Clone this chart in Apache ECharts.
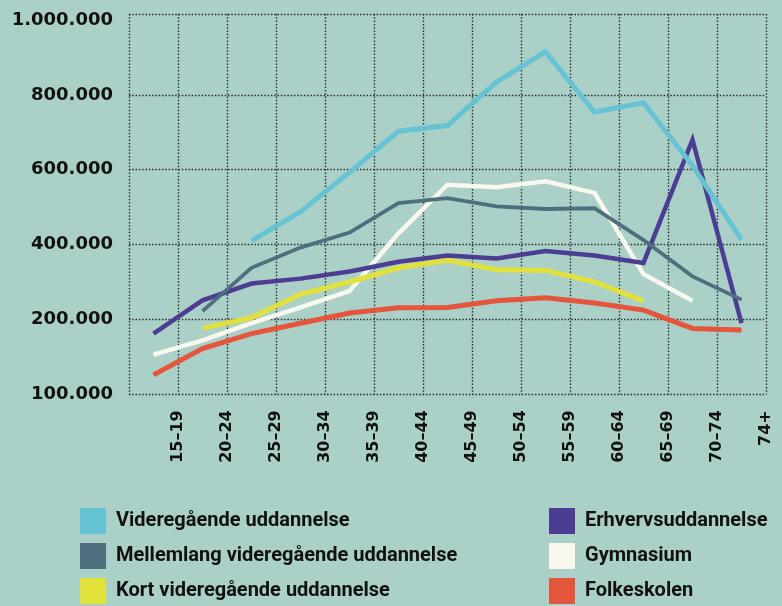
<!DOCTYPE html>
<html><head><meta charset="utf-8">
<script src="https://cdn.jsdelivr.net/npm/echarts@6/dist/echarts.min.js"></script>
<style>html,body{margin:0;padding:0;background:#abd0c8;}#c{width:782px;height:606px;}</style>
</head><body><div id="c"></div>
<script>
const categories = ['15–19','20–24','25–29','30–34','35–39','40–44','45–49','50–54','55–59','60–64','65–69','70–74','74+'];
const yTickValues = [100000, 200000, 400000, 600000, 800000, 1000000];
const yTickLabels = ['100.000','200.000','400.000','600.000','800.000','1.000.000'];

const videregaaende = [null, null, 410000, 488000, 593000, 703000, 718000, 834000, 915000, 754000, 779000, 611000, 413000];
const mellemlang    = [null, 222000, 338000, 392000, 432000, 511000, 524000, 502000, 495000, 497000, 412000, 315000, 253000];
const kort          = [null, 188000, 205000, 267000, 300000, 338000, 358000, 333000, 331000, 300000, 249000, null, null];
const erhverv       = [181000, 251000, 296000, 309000, 328000, 354000, 371000, 363000, 383000, 371000, 351000, 680000, 195000];
const gymnasium     = [153000, 172000, 195000, 232000, 276000, 430000, 560000, 553000, 569000, 538000, 321000, 250000, null];
const folkeskolen   = [126000, 161000, 181000, 195000, 217000, 231000, 232000, 250000, 258000, 244000, 225000, 188000, 186000];

// the printed axis is piecewise: 100k->200k takes the same room as each 200k step above
function toAxis(v) {
  if (v == null) return null;
  return v <= 200000 ? (v - 100000) / 100000 : 1 + (v - 200000) / 200000;
}
const tickPos = yTickValues.map(toAxis);
const frameTop = 5.08;

const colors = {
  videregaaende: '#65c3d3', mellemlang: '#4f6f7f', kort: '#e2e03a',
  erhverv: '#4b3d91', gymnasium: '#f8f8ef', folkeskolen: '#e5553b'
};
function mk(name, data, color, width) {
  return { name, type: 'line', data: data.map(toAxis), xAxisIndex: 0, yAxisIndex: 0,
    showSymbol: false, symbol: 'none', connectNulls: false,
    lineStyle: { color, width, cap: 'butt', join: 'miter' }, itemStyle: { color },
    emphasis: { disabled: true }, animation: false };
}
const dotted = { color: '#2a2f2e', width: 1.4, type: [1.5, 1.8] };
const legendText = { color: '#111', fontFamily: 'Roboto', fontWeight: 'bold', fontSize: 20, padding: [0, 0, 0, 5] };
const chart = echarts.init(document.getElementById('c'), null, { renderer: 'canvas' });
chart.setOption({
  backgroundColor: '#abd0c8',
  animation: false,
  grid: { left: 129, right: 16, top: 14, bottom: 211.7, containLabel: false },
  xAxis: [
    { type: 'category', data: categories, boundaryGap: true, show: false },
    { type: 'category', data: [''].concat(categories), boundaryGap: false, position: 'bottom',
      axisLine: { show: false }, axisTick: { show: false },
      splitLine: { show: true, interval: 0, lineStyle: dotted },
      axisLabel: { interval: 0, rotate: 90, margin: 16, color: '#111', fontFamily: 'DejaVu Sans', fontWeight: 'bold', fontSize: 16 } }
  ],
  yAxis: [{
    type: 'value', min: 0, max: frameTop, interval: 1,
    axisLine: { show: false },
    axisTick: { show: false, customValues: tickPos.slice(0, 5).concat([frameTop]) },
    splitLine: { show: true, lineStyle: dotted },
    axisLabel: { customValues: tickPos, margin: 16, color: '#111', fontFamily: 'DejaVu Sans', fontWeight: 'bold', fontSize: 18,
      formatter: function (v) { const i = tickPos.findIndex(p => Math.abs(p - v) < 1e-6); return i >= 0 ? yTickLabels[i] : ''; } }
  }],
  legend: [
    { data: ['Videregående uddannelse','Mellemlang videregående uddannelse','Kort videregående uddannelse'],
      orient: 'vertical', left: 80, top: 508, height: 110, padding: 0, itemWidth: 26, itemHeight: 26, itemGap: 9, icon: 'rect', selectedMode: false,
      textStyle: legendText },
    { data: ['Erhvervsuddannelse','Gymnasium','Folkeskolen'],
      orient: 'vertical', left: 549, top: 508, height: 110, padding: 0, itemWidth: 26, itemHeight: 26, itemGap: 9, icon: 'rect', selectedMode: false,
      textStyle: legendText }
  ],
  series: [
    mk('Folkeskolen', folkeskolen, colors.folkeskolen, 5),
    mk('Gymnasium', gymnasium, colors.gymnasium, 4.5),
    mk('Kort videregående uddannelse', kort, colors.kort, 5),
    mk('Erhvervsuddannelse', erhverv, colors.erhverv, 4.5),
    mk('Mellemlang videregående uddannelse', mellemlang, colors.mellemlang, 3.8),
    mk('Videregående uddannelse', videregaaende, colors.videregaaende, 5)
  ]
});
</script></body></html>
